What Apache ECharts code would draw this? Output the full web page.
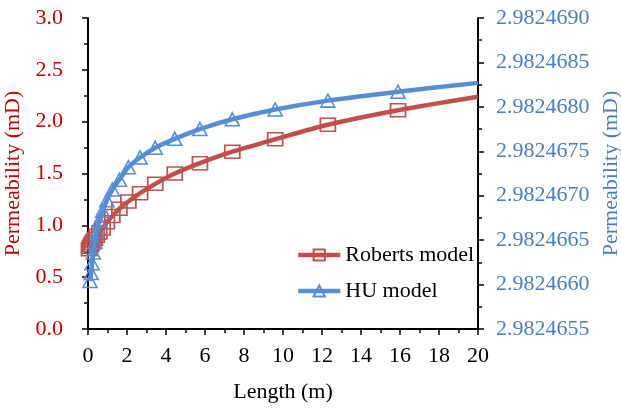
<!DOCTYPE html>
<html><head><meta charset="utf-8">
<script src="https://cdn.jsdelivr.net/npm/echarts@6/dist/echarts.min.js"></script>
<style>html,body{margin:0;padding:0;background:#fff}#c{width:621px;height:409px}</style>
</head><body><div id="c"></div>
<script>
var lengths = [0.05,0.1,0.16,0.21,0.27,0.35,0.45,0.58,0.75,0.97,1.25,1.61,2.07,2.67,3.45,4.45,5.74,7.4,9.6,12.3,15.9,20];
var robertsValues = [0.77,0.79,0.81,0.83,0.85,0.87,0.90,0.93,0.97,1.03,1.09,1.16,1.23,1.31,1.40,1.50,1.60,1.71,1.83,1.97,2.11,2.24];
var huLengths = [0.1,0.16,0.21,0.27,0.35,0.45,0.58,0.75,0.97,1.25,1.61,2.07,2.67,3.45,4.45,5.74,7.4,9.6,12.3,15.9,20];
var huValues = [2.98246604,2.98246613,2.98246624,2.98246636,2.98246648,2.98246660,2.98246672,2.98246683,2.98246695,2.98246707,2.98246718,2.98246732,2.98246743,2.98246754,2.98246764,2.98246775,2.98246786,2.98246797,2.98246807,2.98246817,2.98246827];
var xTicks = {min:0, max:20, interval:2};
var yLeftTicks = {min:0, max:3, interval:0.5};
var yRightTicks = {min:2.9824655, max:2.982469, interval:0.0000005};

var FONT = "'Liberation Serif', 'Times New Roman', serif";
var RED = '#C0504D', BLUE = '#558ED5';
var RED_TXT = '#C00000', BLUE_TXT = '#4A7EBB';

function mk(xs, ys, lastNoSymbol) {
  return xs.map(function (x, i) {
    var d = {value: [x, ys[i]]};
    if (lastNoSymbol && i === xs.length - 1) d.symbol = 'none';
    return d;
  });
}

var chart = echarts.init(document.getElementById('c'), null, {renderer: 'canvas'});
chart.setOption({
  animation: false,
  backgroundColor: '#fff',
  grid: {left: 88, right: 143, top: 18, bottom: 80, containLabel: false, outerBoundsMode: 'none'},
  legend: {
    left: 296, top: 244, orient: 'vertical', padding: 0,
    itemWidth: 42, itemHeight: 14, itemGap: 14,
    lineStyle: {width: 4.5},
    textStyle: {fontFamily: FONT, fontSize: 22, color: '#000'},
    data: ['Roberts model', 'HU model']
  },
  xAxis: {
    type: 'value', min: xTicks.min, max: xTicks.max, interval: xTicks.interval,
    name: 'Length (m)', nameLocation: 'middle', nameGap: 52,
    nameTextStyle: {fontFamily: FONT, fontSize: 22, color: '#000'},
    axisLine: {onZero: false, lineStyle: {color: '#000', width: 2}},
    axisTick: {show: true, length: 6, lineStyle: {color: '#000', width: 1.5}},
    minorTick: {show: true, splitNumber: 2, length: 4, lineStyle: {color: '#000', width: 1.5}},
    axisLabel: {fontFamily: FONT, fontSize: 22, color: '#000', margin: 16},
    splitLine: {show: false}
  },
  yAxis: [{
    type: 'value', position: 'left', min: yLeftTicks.min, max: yLeftTicks.max, interval: yLeftTicks.interval,
    name: 'Permeability (mD)', nameLocation: 'middle', nameGap: 56, nameRotate: 90,
    nameTextStyle: {fontFamily: FONT, fontSize: 22, color: RED_TXT},
    axisLine: {show: true, onZero: false, lineStyle: {color: '#000', width: 2}},
    axisTick: {show: true, length: 6, lineStyle: {color: '#000', width: 1.5}},
    minorTick: {show: true, splitNumber: 2, length: 4, lineStyle: {color: '#000', width: 1.5}},
    axisLabel: {fontFamily: FONT, fontSize: 22, color: RED_TXT, margin: 25,
      formatter: function (v) { return v.toFixed(1); }},
    splitLine: {show: false}
  }, {
    type: 'value', position: 'right', min: yRightTicks.min, max: yRightTicks.max, interval: yRightTicks.interval,
    name: 'Permeability (mD)', nameLocation: 'middle', nameGap: 122, nameRotate: 90,
    nameTextStyle: {fontFamily: FONT, fontSize: 22, color: BLUE_TXT},
    axisLine: {show: true, onZero: false, lineStyle: {color: '#000', width: 2}},
    axisTick: {show: true, length: 6, lineStyle: {color: '#000', width: 1.5}},
    minorTick: {show: true, splitNumber: 2, length: 4, lineStyle: {color: '#000', width: 1.5}},
    axisLabel: {fontFamily: FONT, fontSize: 22, color: BLUE_TXT, margin: 18,
      formatter: function (v) { return v.toFixed(7); }},
    splitLine: {show: false}
  }],
  series: [{
    name: 'Roberts model', type: 'line', yAxisIndex: 0,
    data: mk(lengths, robertsValues, true),
    smooth: 0.3,
    symbol: 'rect', symbolSize: [15, 13],
    lineStyle: {color: RED, width: 4.5},
    itemStyle: {color: 'rgba(255,255,255,0)', borderColor: RED, borderWidth: 1.6},
    z: 2
  }, {
    name: 'HU model', type: 'line', yAxisIndex: 1,
    data: mk(huLengths, huValues, true),
    smooth: 0.3,
    symbol: 'triangle', symbolSize: [14, 13],
    lineStyle: {color: BLUE, width: 4.5},
    itemStyle: {color: 'rgba(255,255,255,0)', borderColor: BLUE, borderWidth: 1.6},
    z: 3
  }]
});
</script></body></html>
